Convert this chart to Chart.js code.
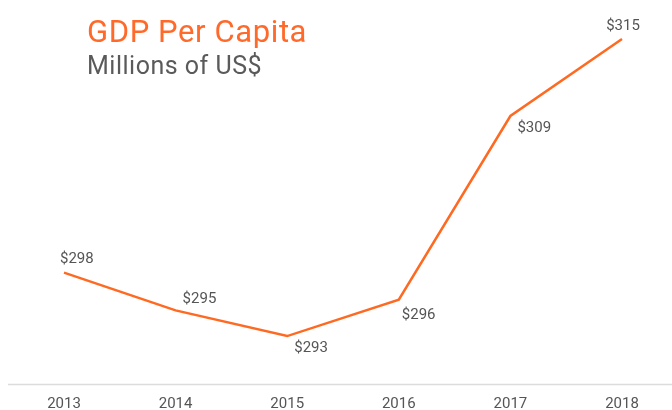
<!DOCTYPE html>
<html>
<head>
<meta charset="utf-8">
<script src="https://cdn.jsdelivr.net/npm/chart.js@4.4.1/dist/chart.umd.min.js"></script>
<style>
  html, body { margin: 0; padding: 0; background: #fff; overflow: hidden; }
  #wrap { position: relative; width: 672px; height: 410px; }
  #title { position: absolute; left: 87px; top: 13px; font: 31px Roboto, sans-serif; letter-spacing: 0.6px; color: #ff6a2b; }
  #subtitle { position: absolute; left: 87px; top: 51px; font: 25px Roboto, sans-serif; letter-spacing: 0.5px; color: #5a5a5a; }
</style>
</head>
<body>
<div id="wrap">
  <canvas id="gdpChart" width="672" height="410"></canvas>
  <div id="title">GDP Per Capita</div>
  <div id="subtitle">Millions of US$</div>
</div>
<script>
// =================== DATA ===================
const years = ["2013", "2014", "2015", "2016", "2017", "2018"];
const gdpValues = [297.7, 294.9, 293.0, 295.7, 309.3, 315.0];
// where each value label sits relative to its point
const labelSide = ["above", "above", "below", "below", "below", "above"];

const ORANGE = "#ff6a22";
const GRAY = "#555555";
const FONT = "Roboto, sans-serif";

// =================== PLUGINS ===================
// light baseline across the full width under the plot
const baselinePlugin = {
  id: "baseline",
  afterDraw(chart) {
    const ctx = chart.ctx;
    const y = chart.chartArea.bottom + 0.5;
    ctx.save();
    ctx.strokeStyle = "#dcdcdc";
    ctx.lineWidth = 1.5;
    ctx.beginPath();
    ctx.moveTo(8, y);
    ctx.lineTo(chart.width, y);
    ctx.stroke();
    ctx.restore();
  }
};

// "$xxx" value labels next to each point
const valueLabels = {
  id: "valueLabels",
  afterDatasetsDraw(chart) {
    const ctx = chart.ctx;
    const meta = chart.getDatasetMeta(0);
    ctx.save();
    ctx.font = "15px " + FONT;
    ctx.fillStyle = GRAY;
    ctx.textBaseline = "middle";
    meta.data.forEach((pt, i) => {
      const txt = "$" + Math.round(gdpValues[i]);
      const last = i === meta.data.length - 1;
      const first = i === 0;
      ctx.textAlign = last ? "center" : "left";
      let dx = last ? 1 : (first ? -4 : (i === 3 ? 3 : 7));
      let dy = labelSide[i] === "above" ? (i === 1 ? -11 : -13) : (i === 3 ? 16 : 12);
      ctx.fillText(txt, pt.x + dx, pt.y + dy);
    });
    ctx.restore();
  }
};

// =================== CHART ===================
new Chart(document.getElementById("gdpChart"), {
  type: "line",
  data: {
    labels: years,
    datasets: [{
      data: gdpValues,
      borderColor: ORANGE,
      borderWidth: 2.5,
      pointRadius: 0,
      tension: 0,
      fill: false
    }]
  },
  options: {
    responsive: false,
    animation: false,
    layout: { padding: { left: 64, right: 50, top: 10, bottom: 0 } },
    plugins: {
      legend: { display: false },
      tooltip: { enabled: false }
    },
    scales: {
      x: {
        grid: { display: false, drawTicks: false },
        border: { display: false },
        ticks: {
          color: GRAY,
          font: { family: FONT, size: 15 },
          padding: 11,
          maxRotation: 0
        },
        afterFit(scale) { scale.height = 26; }
      },
      y: {
        display: false,
        min: 289.45,
        max: 317.15
      }
    }
  },
  plugins: [baselinePlugin, valueLabels]
});
</script>
</body>
</html>
